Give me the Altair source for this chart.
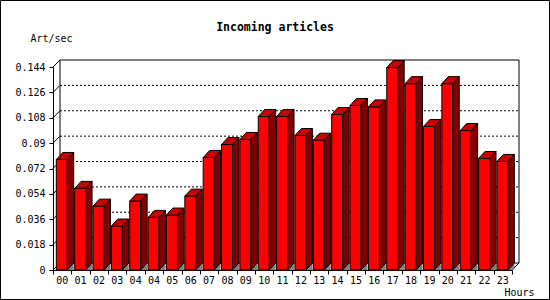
import json
import altair as alt
import pandas as pd

# ---- data ----
hours = ["00", "01", "02", "03", "04", "04", "05", "06", "07", "08", "09", "10",
         "11", "12", "13", "14", "15", "16", "17", "18", "19", "20", "21", "22", "23"]
values = [0.0784, 0.0579, 0.0453, 0.0312, 0.0489, 0.0373, 0.0390, 0.0524, 0.0798,
          0.0890, 0.0926, 0.1089, 0.1089, 0.0954, 0.0921, 0.1103, 0.1167, 0.1157,
          0.1436, 0.1322, 0.1018, 0.1322, 0.0989, 0.0791, 0.0770]
y_ticks = [0, 0.018, 0.036, 0.054, 0.072, 0.09, 0.108, 0.126, 0.144]
title_text = "Incoming articles"
y_title = "Art/sec"
x_title = "Hours"

# ---- geometry / style ----
W, H = 459, 203
PAD_L, PAD_T = 53, 67
N = len(hours)
YMAX = y_ticks[-1]
PXX = N / W          # data units per pixel (x)
PXY = YMAX / H       # data units per pixel (y)
FRONT_OFF = 3.3 * PXX
FRONT_W = 11 * PXX
DX = 6.4 * PXX
DY = 7 * PXY
WALL = 7             # pixels of wall depth
FONT = "DejaVu Sans Mono"
RED, TOP, SIDE, SHADOW = "#ff0000", "#c80000", "#800000", "#808080"

xs = alt.Scale(domain=[0, N], nice=False, zero=False)
ys = alt.Scale(domain=[0, YMAX], nice=False)

front_rows, side_rows, top_rows, shadow_rows = [], [], [], []
for i, (h, v) in enumerate(zip(hours, values)):
    x0 = i + FRONT_OFF
    x1 = x0 + FRONT_W
    front_rows.append({"i": i, "x0": x0, "x1": x1, "v": v, "z": 0})
    side_rows += [{"i": i, "x": x1, "y": v, "y2": 0},
                  {"i": i, "x": x1 + DX, "y": v + DY, "y2": DY}]
    top_rows += [{"i": i, "y": v, "x": x0, "x2": x1},
                 {"i": i, "y": v + DY, "x": x0 + DX, "x2": x1 + DX}]
    shadow_rows += [{"i": i, "x": x1, "y": 0, "y2": 0},
                    {"i": i, "x": x1 + DX, "y": DY, "y2": 0}]

front_df = pd.DataFrame(front_rows)
side_df = pd.DataFrame(side_rows)
top_df = pd.DataFrame(top_rows)
shadow_df = pd.DataFrame(shadow_rows)

wall_df = pd.DataFrame([
    {"x": 0, "x2": 0, "y": 0, "y2": YMAX},
    {"x": 0, "x2": N, "y": YMAX, "y2": YMAX},
    {"x": N, "x2": N, "y": 0, "y2": YMAX},
    {"x": 0, "x2": N, "y": 0, "y2": 0},
])
grid_df = pd.DataFrame({"t": y_ticks[1:-1], "x": 0, "x2": N})
slash_df = pd.DataFrame(
    [{"x": 0, "y": t} for t in y_ticks] + [{"x": N, "y": 0}]
)

labels_js = json.dumps(hours)
xaxis = alt.Axis(
    values=list(range(N + 1)),
    labelExpr=f"{labels_js}[datum.value] || ''",
    labelOffset=8.7, tickSize=4, labelPadding=1,
    labelFont=FONT, labelFontSize=10, labelColor="black",
    labelOverlap=False, labelFlush=False,
    domainColor="black", tickColor="black", grid=False,
    title=x_title, titleX=481, titleY=22, titleAlign="right", titleBaseline="middle",
    titleFont=FONT, titleFontSize=10, titleFontWeight="normal", titleColor="black",
)
yaxis = alt.Axis(
    values=y_ticks, format=".3~f", tickSize=4, labelPadding=4,
    labelFont=FONT, labelFontSize=10, labelColor="black",
    labelOverlap=False, labelFlush=False,
    domainColor="black", tickColor="black", grid=False,
    title=y_title, titleAngle=0, titleX=-23, titleY=-29, titleAlign="left",
    titleBaseline="middle", titleFont=FONT, titleFontSize=10,
    titleFontWeight="normal", titleColor="black",
)

wall = alt.Chart(wall_df).mark_rule(
    color="black", strokeWidth=1, xOffset=WALL, x2Offset=WALL, yOffset=-WALL, y2Offset=-WALL
).encode(
    x=alt.X("x:Q", scale=xs, axis=xaxis), x2="x2:Q",
    y=alt.Y("y:Q", scale=ys, axis=yaxis), y2="y2:Q",
)

grid = alt.Chart(grid_df).mark_rule(
    color="black", strokeWidth=1, strokeDash=[2, 2], xOffset=WALL, x2Offset=WALL, yOffset=-WALL
).encode(
    x=alt.X("x:Q", scale=xs, axis=xaxis), x2="x2:Q",
    y=alt.Y("t:Q", scale=ys, axis=yaxis),
)

slash = alt.Chart(slash_df).mark_rule(
    color="black", strokeWidth=1, x2Offset=WALL, y2Offset=-WALL
).encode(
    x=alt.X("x:Q", scale=xs, axis=xaxis), x2="x:Q",
    y=alt.Y("y:Q", scale=ys, axis=yaxis), y2="y:Q",
)

shadow = alt.Chart(shadow_df).mark_area(orient="vertical", color=SHADOW).encode(
    x=alt.X("x:Q", scale=xs, axis=xaxis),
    y=alt.Y("y:Q", scale=ys, axis=yaxis, stack=None), y2="y2:Q",
    detail="i:N",
)

front = alt.Chart(front_df).mark_rect(fill=RED, stroke="black", strokeWidth=1).encode(
    x=alt.X("x0:Q", scale=xs, axis=xaxis), x2="x1:Q",
    y=alt.Y("v:Q", scale=ys, axis=yaxis), y2="z:Q",
)

side = alt.Chart(side_df).mark_area(
    orient="vertical", fill=SIDE, stroke="black", strokeWidth=1
).encode(
    x=alt.X("x:Q", scale=xs, axis=xaxis),
    y=alt.Y("y:Q", scale=ys, axis=yaxis, stack=None), y2="y2:Q",
    detail="i:N",
)

top = alt.Chart(top_df).mark_area(
    orient="horizontal", fill=TOP, stroke="black", strokeWidth=1
).encode(
    y=alt.Y("y:Q", scale=ys, axis=yaxis),
    x=alt.X("x:Q", scale=xs, axis=xaxis, stack=None), x2="x2:Q",
    detail="i:N",
)

title = alt.Chart(pd.DataFrame({"t": [title_text]})).mark_text(
    font=FONT, fontSize=11.5, fontWeight="bold", color="black",
    align="center", baseline="middle"
).encode(text="t:N", x=alt.value(275 - PAD_L), y=alt.value(28 - PAD_T))

border = alt.Chart(pd.DataFrame({"a": [0]})).mark_rect(
    fillOpacity=0, stroke="black", strokeWidth=1
).encode(
    x=alt.value(0.5 - PAD_L), x2=alt.value(549.5 - PAD_L),
    y=alt.value(0.5 - PAD_T), y2=alt.value(299.5 - PAD_T),
)

chart = alt.layer(wall, grid, slash, shadow, front, side, top, title, border).properties(
    width=W, height=H,
    padding={"left": PAD_L, "top": PAD_T, "right": 550 - PAD_L - W, "bottom": 300 - PAD_T - H},
    autosize=alt.AutoSizeParams(type="none"),
    background="white",
).configure_view(stroke=None)

chart.save("out.html", embed_options={"renderer": "svg", "actions": False})
